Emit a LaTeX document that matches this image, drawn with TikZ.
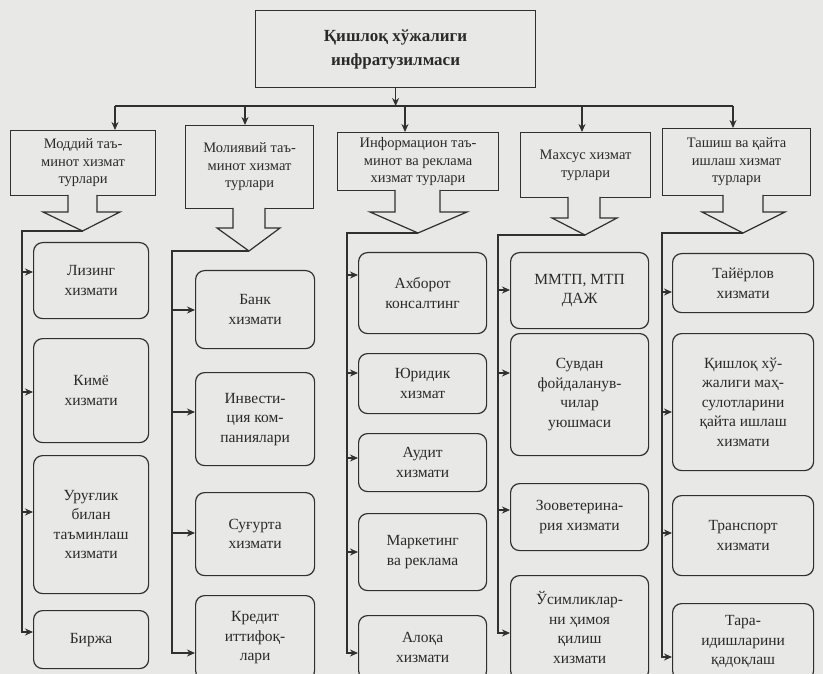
\documentclass[tikz,border=0pt]{standalone}
\usepackage{fontspec}
\setmainfont{Liberation Serif}
\usetikzlibrary{arrows.meta}
\definecolor{bg}{HTML}{E8E8E6}
\definecolor{lc}{HTML}{303030}
\definecolor{tc}{HTML}{2A2A2A}
\newcommand\mkbox[6]{\node[item, anchor=north west, minimum width=#4pt, minimum height=#5pt] (#1) at (#2,#3) {#6};}
\newcommand\mkcat[6]{\node[cat, anchor=north west, minimum width=#4pt, minimum height=#5pt] (#1) at (#2,#3) {#6};}
\tikzset{
  ln/.style={draw=lc, line width=1.2pt},
  cat/.style={ln, align=center, text=tc, inner sep=2pt, font=\fontsize{14.5}{17.5}\selectfont},
  item/.style={ln, rounded corners=9pt, align=center, text=tc, inner sep=2pt, font=\fontsize{15.5}{19.5}\selectfont},
  topbox/.style={ln, align=center, text=tc, font=\bfseries\fontsize{17}{24}\selectfont},
  arr/.style={draw=lc, line width=1.2pt, -{Stealth[length=8pt,width=7pt]}},
  wire/.style={draw=lc, line width=1.2pt},
  blk/.style={ln, fill=bg, line join=miter}
}
\begin{document}
\begin{tikzpicture}[x=1pt,y=-1pt]
\fill[bg] (0,0) rectangle (823,674);
\useasboundingbox (0,0) rectangle (823,674);
\clip (0,0) rectangle (823,674);

% top
\node[topbox, anchor=north west, minimum width=280pt, minimum height=77pt] (top) at (255,10) {Қишлоқ хўжалиги\\инфратузилмаси};

% categories
\mkcat{c1}{10}{130}{145}{65}{Моддий таъ-\\минот хизмат\\турлари}
\mkcat{c2}{185}{125}{128}{83}{Молиявий таъ-\\минот хизмат\\турлари}
\mkcat{c3}{337}{132}{161}{58}{Информацион таъ-\\минот ва реклама\\хизмат турлари}
\mkcat{c4}{520}{132}{130}{65}{Махсус хизмат\\турлари}
\mkcat{c5}{662}{128}{148}{67}{Ташиш ва қайта\\ишлаш хизмат\\турлари}

% bus
\coordinate (b1) at (115,106);
\coordinate (b2) at (245,106);
\coordinate (b3) at (405,106);
\coordinate (b4) at (582,106);
\coordinate (b5) at (733,106);
\draw[arr] (top.south) -- (top.south |- b1);
\draw[wire] (b1) -- (b5);
\draw[arr] (b1) -- (c1.north -| b1);
\draw[arr] (b2) -- (c2.north -| b2);
\draw[arr] (b3) -- (c3.north -| b3);
\draw[arr] (b4) -- (c4.north -| b4);
\draw[arr] (b5) -- (c5.north -| b5);

% block arrows
\draw[blk] (68,195) -- (68,212) -- (43,212) -- (82.5,231) -- (120,212) -- (97,212) -- (97,195);
\draw[blk] (233,208) -- (233,228) -- (217,228) -- (249,251) -- (280,228) -- (265,228) -- (265,208);
\draw[blk] (395,190) -- (395,212) -- (370,212) -- (418,233) -- (467,212) -- (440,212) -- (440,190);
\draw[blk] (568,197) -- (568,218) -- (552,218) -- (585,235) -- (617,218) -- (600,218) -- (600,197);
\draw[blk] (723,195) -- (723,212) -- (702,212) -- (743,233) -- (785,212) -- (763,212) -- (763,195);
\coordinate (k1) at (82.5,231);
\coordinate (k2) at (249,251);
\coordinate (k3) at (418,233);
\coordinate (k4) at (585,235);
\coordinate (k5) at (743,233);

% items column 1
\mkbox{l1}{33}{242}{115}{76}{Лизинг\\хизмати}
\mkbox{l2}{33}{338}{115}{104}{Кимё\\хизмати}
\mkbox{l3}{33}{455}{115}{138}{Уруғлик\\билан\\таъминлаш\\хизмати}
\mkbox{l4}{33}{610}{115}{58}{Биржа}
% column 2
\mkbox{m1}{195}{270}{119}{78}{Банк\\хизмати}
\mkbox{m2}{195}{372}{119}{93}{Инвести-\\ция ком-\\паниялари}
\mkbox{m3}{195}{492}{119}{83}{Суғурта\\хизмати}
\mkbox{m4}{195}{595}{119}{84}{Кредит\\иттифоқ-\\лари}
% column 3
\mkbox{i1}{358}{252}{128}{81}{Ахборот\\консалтинг}
\mkbox{i2}{358}{353}{128}{60}{Юридик\\хизмат}
\mkbox{i3}{358}{433}{128}{58}{Аудит\\хизмати}
\mkbox{i4}{358}{513}{128}{77}{Маркетинг\\ва реклама}
\mkbox{i5}{358}{615}{128}{64}{Алоқа\\хизмати}
% column 4
\mkbox{s1}{510}{252}{138}{76}{ММТП, МТП\\ДАЖ}
\mkbox{s2}{510}{333}{138}{122}{Сувдан\\фойдаланув-\\чилар\\уюшмаси}
\mkbox{s3}{510}{483}{138}{67}{Зооветерина-\\рия хизмати}
\mkbox{s4}{510}{575}{138}{104}{Ўсимликлар-\\ни ҳимоя\\қилиш\\хизмати}
% column 5
\mkbox{t1}{672}{253}{141}{59}{Тайёрлов\\хизмати}
\mkbox{t2}{672}{333}{141}{137}{Қишлоқ хў-\\жалиги маҳ-\\сулотларини\\қайта ишлаш\\хизмати}
\mkbox{t3}{672}{495}{141}{80}{Транспорт\\хизмати}
\mkbox{t4}{672}{603}{141}{76}{Тара-\\идишларини\\қадоқлаш}

% spines
\coordinate (sp1) at (22,231);
\coordinate (sp2) at (172,251);
\coordinate (sp3) at (347,233);
\coordinate (sp4) at (498,235);
\coordinate (sp5) at (662,233);

\coordinate (y11) at (0,272);
\coordinate (y12) at (0,392);
\coordinate (y13) at (0,512);
\coordinate (y14) at (0,632);
\draw[arr] (k1) -- (sp1) -- (sp1 |- y14) -- (l4.west |- y14);
\draw[arr] (sp1 |- y11) -- (l1.west |- y11);
\draw[arr] (sp1 |- y12) -- (l2.west |- y12);
\draw[arr] (sp1 |- y13) -- (l3.west |- y13);

\coordinate (y21) at (0,310);
\coordinate (y22) at (0,412);
\coordinate (y23) at (0,533);
\coordinate (y24) at (0,653);
\draw[arr] (k2) -- (sp2) -- (sp2 |- y24) -- (m4.west |- y24);
\draw[arr] (sp2 |- y21) -- (m1.west |- y21);
\draw[arr] (sp2 |- y22) -- (m2.west |- y22);
\draw[arr] (sp2 |- y23) -- (m3.west |- y23);

\coordinate (y31) at (0,275);
\coordinate (y32) at (0,373);
\coordinate (y33) at (0,458);
\coordinate (y34) at (0,552);
\coordinate (y35) at (0,653);
\draw[arr] (k3) -- (sp3) -- (sp3 |- y35) -- (i5.west |- y35);
\draw[arr] (sp3 |- y31) -- (i1.west |- y31);
\draw[arr] (sp3 |- y32) -- (i2.west |- y32);
\draw[arr] (sp3 |- y33) -- (i3.west |- y33);
\draw[arr] (sp3 |- y34) -- (i4.west |- y34);

\coordinate (y41) at (0,290);
\coordinate (y42) at (0,373);
\coordinate (y43) at (0,510);
\coordinate (y44) at (0,633);
\draw[arr] (k4) -- (sp4) -- (sp4 |- y44) -- (s4.west |- y44);
\draw[arr] (sp4 |- y41) -- (s1.west |- y41);
\draw[arr] (sp4 |- y42) -- (s2.west |- y42);
\draw[arr] (sp4 |- y43) -- (s3.west |- y43);

\coordinate (y51) at (0,292);
\coordinate (y52) at (0,412);
\coordinate (y53) at (0,533);
\coordinate (y54) at (0,657);
\draw[arr] (k5) -- (sp5) -- (sp5 |- y54) -- (t4.west |- y54);
\draw[arr] (sp5 |- y51) -- (t1.west |- y51);
\draw[arr] (sp5 |- y52) -- (t2.west |- y52);
\draw[arr] (sp5 |- y53) -- (t3.west |- y53);
\end{tikzpicture}
\end{document}
